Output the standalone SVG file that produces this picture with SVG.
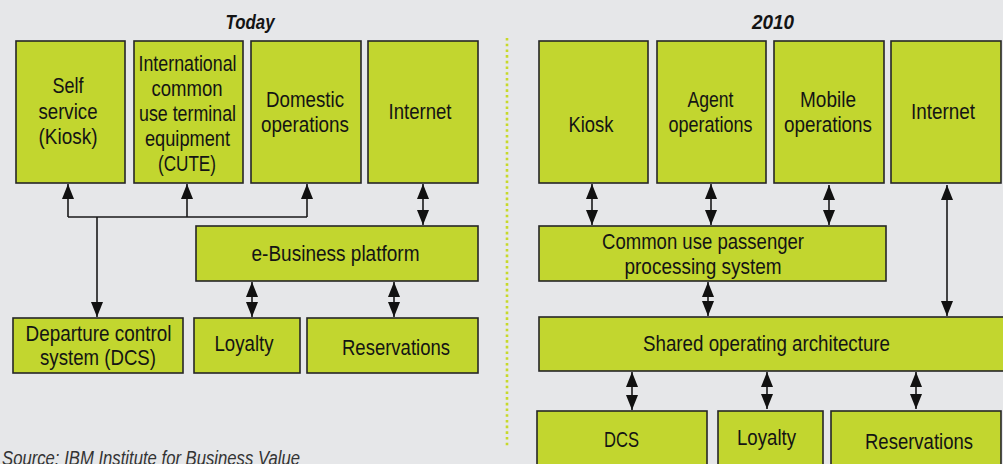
<svg xmlns="http://www.w3.org/2000/svg" width="1003" height="464" viewBox="0 0 1003 464">
<style>
.bg{fill:#e6e7e9}
.box{fill:#c2d62f;stroke:#262626;stroke-width:1.6}
.t{font-family:"Liberation Sans",Arial,sans-serif;font-size:21.5px;fill:#141414;text-anchor:middle}
.h{font-family:"Liberation Sans",Arial,sans-serif;font-size:20px;font-weight:bold;font-style:italic;fill:#141414;text-anchor:middle}
.src{font-family:"Liberation Sans",Arial,sans-serif;font-size:20px;font-style:italic;fill:#333}
.c{fill:none;stroke:#1a1a1a;stroke-width:1.6}
.a{marker-end:url(#ah)}
.d{marker-start:url(#ah);marker-end:url(#ah)}
</style>
<defs>
<marker id="ah" viewBox="0 0 15 12" refX="15" refY="6" markerWidth="15" markerHeight="12" markerUnits="userSpaceOnUse" orient="auto-start-reverse">
<path d="M0,0 L15,6 L0,12 z" fill="#111"/>
</marker>
</defs>
<rect class="bg" x="0" y="0" width="1003" height="464"/>
<line x1="507" y1="38" x2="507" y2="447" stroke="#c8d92a" stroke-width="2.6" stroke-dasharray="2.6 3.1"/>
<text class="h" x="250" y="29" textLength="49" lengthAdjust="spacingAndGlyphs">Today</text>
<text class="h" x="773" y="29" textLength="42" lengthAdjust="spacingAndGlyphs">2010</text>

<g id="n-self"><rect class="box" x="16" y="41" width="109" height="142"/>
<text class="t" x="68" y="93" textLength="31" lengthAdjust="spacingAndGlyphs">Self</text>
<text class="t" x="68" y="119" textLength="59" lengthAdjust="spacingAndGlyphs">service</text>
<text class="t" x="68" y="144" textLength="59" lengthAdjust="spacingAndGlyphs">(Kiosk)</text></g>

<g id="n-cute"><rect class="box" x="134" y="41" width="109" height="142"/>
<text class="t" x="187.5" y="71" textLength="98" lengthAdjust="spacingAndGlyphs">International</text>
<text class="t" x="187" y="96" textLength="71" lengthAdjust="spacingAndGlyphs">common</text>
<text class="t" x="187.5" y="121" textLength="97" lengthAdjust="spacingAndGlyphs">use terminal</text>
<text class="t" x="187.5" y="146" textLength="85" lengthAdjust="spacingAndGlyphs">equipment</text>
<text class="t" x="187" y="171" textLength="58" lengthAdjust="spacingAndGlyphs">(CUTE)</text></g>

<g id="n-domestic"><rect class="box" x="251" y="41" width="110" height="142"/>
<text class="t" x="305" y="107" textLength="78" lengthAdjust="spacingAndGlyphs">Domestic</text>
<text class="t" x="305" y="132" textLength="88" lengthAdjust="spacingAndGlyphs">operations</text></g>

<g id="n-internet1"><rect class="box" x="368" y="41" width="110" height="142"/>
<text class="t" x="420" y="119" textLength="63" lengthAdjust="spacingAndGlyphs">Internet</text></g>

<g id="n-ebiz"><rect class="box" x="196" y="226" width="282" height="55"/>
<text class="t" x="335.5" y="261" textLength="168" lengthAdjust="spacingAndGlyphs">e-Business platform</text></g>

<g id="n-dcs1"><rect class="box" x="13" y="318" width="170" height="55"/>
<text class="t" x="98.5" y="341" textLength="146" lengthAdjust="spacingAndGlyphs">Departure control</text>
<text class="t" x="98" y="365" textLength="116" lengthAdjust="spacingAndGlyphs">system (DCS)</text></g>

<g id="n-loyalty1"><rect class="box" x="194" y="318" width="106" height="55"/>
<text class="t" x="244" y="351" textLength="59" lengthAdjust="spacingAndGlyphs">Loyalty</text></g>

<g id="n-res1"><rect class="box" x="307" y="318" width="171" height="55"/>
<text class="t" x="396" y="355" textLength="108" lengthAdjust="spacingAndGlyphs">Reservations</text></g>

<g id="n-kiosk"><rect class="box" x="539" y="41" width="109" height="142"/>
<text class="t" x="591" y="132" textLength="45" lengthAdjust="spacingAndGlyphs">Kiosk</text></g>

<g id="n-agent"><rect class="box" x="657" y="41" width="109" height="142"/>
<text class="t" x="710.5" y="107" textLength="46" lengthAdjust="spacingAndGlyphs">Agent</text>
<text class="t" x="710.5" y="132" textLength="84" lengthAdjust="spacingAndGlyphs">operations</text></g>

<g id="n-mobile"><rect class="box" x="774" y="41" width="110" height="142"/>
<text class="t" x="828" y="107" textLength="56" lengthAdjust="spacingAndGlyphs">Mobile</text>
<text class="t" x="828" y="132" textLength="88" lengthAdjust="spacingAndGlyphs">operations</text></g>

<g id="n-internet2"><rect class="box" x="891" y="41" width="110" height="142"/>
<text class="t" x="943" y="119" textLength="64" lengthAdjust="spacingAndGlyphs">Internet</text></g>

<g id="n-cupps"><rect class="box" x="539" y="226" width="347" height="55"/>
<text class="t" x="703" y="249" textLength="202" lengthAdjust="spacingAndGlyphs">Common use passenger</text>
<text class="t" x="703" y="274" textLength="157" lengthAdjust="spacingAndGlyphs">processing system</text></g>

<g id="n-soa"><rect class="box" x="539" y="317" width="470" height="54"/>
<text class="t" x="766.5" y="351" textLength="247" lengthAdjust="spacingAndGlyphs">Shared operating architecture</text></g>

<g id="n-dcs2"><rect class="box" x="537" y="411" width="170" height="60"/>
<text class="t" x="621.5" y="447" textLength="35" lengthAdjust="spacingAndGlyphs">DCS</text></g>

<g id="n-loyalty2"><rect class="box" x="718" y="411" width="105" height="60"/>
<text class="t" x="766.5" y="445" textLength="59" lengthAdjust="spacingAndGlyphs">Loyalty</text></g>

<g id="n-res2"><rect class="box" x="831" y="411" width="170" height="60"/>
<text class="t" x="919" y="449" textLength="108" lengthAdjust="spacingAndGlyphs">Reservations</text></g>

<g id="connectors">
<path class="c" d="M68,217 H307"/>
<path class="c a" d="M68,217 V184"/>
<path class="c a" d="M187,217 V184"/>
<path class="c a" d="M307,217 V184"/>
<path class="c a" d="M97,217 V317"/>
<path class="c d" d="M423,184 V225"/>
<path class="c d" d="M252,282 V317"/>
<path class="c d" d="M394,282 V317"/>
<path class="c d" d="M592,184 V225"/>
<path class="c d" d="M711,184 V225"/>
<path class="c d" d="M829,185 V225"/>
<path class="c d" d="M947,185 V316"/>
<path class="c d" d="M708,282 V316"/>
<path class="c d" d="M632,372 V410"/>
<path class="c d" d="M767,372 V409"/>
<path class="c d" d="M916,372 V409"/>
</g>

<text class="src" x="2" y="465" textLength="298" lengthAdjust="spacingAndGlyphs">Source: IBM Institute for Business Value</text>
</svg>
